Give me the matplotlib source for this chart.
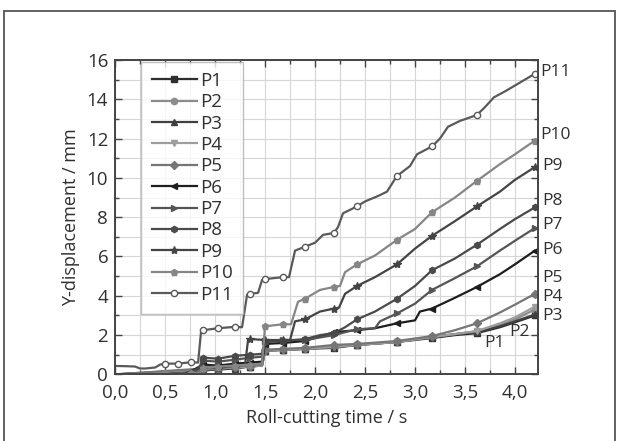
#!/usr/bin/env python3
"""Y-displacement of points P1-P11 over roll-cutting time."""

import matplotlib
matplotlib.use("Agg")
import matplotlib.pyplot as plt
import numpy as np
from matplotlib.patches import Rectangle
from matplotlib.ticker import MultipleLocator, FuncFormatter

plt.rcParams['font.family'] = ['Open Sans', 'DejaVu Sans']

# times where markers are drawn (s)
mark_t = [0.5, 0.63, 0.76, 0.88, 1.03, 1.2, 1.35, 1.5, 1.68, 1.9, 2.19, 2.42,
          2.82, 3.17, 3.62, 4.2]

# P1-P5 share one time base
t_low = [0, 0.88, 1.03, 1.2, 1.35, 1.47, 1.5, 1.68, 1.9, 2.19, 2.42, 2.82,
         3.17, 3.4, 3.62, 3.85, 4.0, 4.2]
y_p1 = [0, 0.25, 0.3, 0.35, 0.4, 0.5, 1.2, 1.25, 1.3, 1.35, 1.5, 1.65, 1.85,
        2.0, 2.1, 2.4, 2.65, 3.0]
y_p2 = [0, 0.2, 0.3, 0.35, 0.4, 0.45, 1.25, 1.25, 1.3, 1.4, 1.5, 1.65, 1.9,
        2.05, 2.2, 2.55, 2.8, 3.3]
y_p3 = [0, 0.2, 0.25, 0.3, 0.4, 0.45, 1.2, 1.25, 1.3, 1.4, 1.5, 1.65, 1.9,
        2.05, 2.15, 2.45, 2.7, 3.05]
y_p4 = [0, 0.25, 0.3, 0.35, 0.4, 0.45, 1.2, 1.25, 1.3, 1.4, 1.5, 1.65, 1.9,
        2.05, 2.2, 2.6, 2.9, 3.45]
y_p5 = [0, 0.3, 0.3, 0.4, 0.45, 0.5, 1.25, 1.3, 1.35, 1.5, 1.55, 1.7, 1.95,
        2.25, 2.6, 3.15, 3.55, 4.1]

t_p6 = [0, 0.7, 0.88, 1.03, 1.2, 1.35, 1.47, 1.5, 1.68, 1.9, 2.19, 2.42, 2.6,
        2.82, 3.0, 3.05, 3.17, 3.4, 3.62, 3.85, 4.0, 4.2]
y_p6 = [0, 0, 0.5, 0.45, 0.55, 0.6, 0.65, 1.55, 1.6, 1.7, 2.15, 2.25, 2.35,
        2.6, 2.75, 3.2, 3.35, 3.9, 4.45, 5.1, 5.6, 6.3]

t_p7 = [0, 0.6, 0.8, 0.88, 1.03, 1.2, 1.35, 1.47, 1.5, 1.68, 1.9, 2.19, 2.42,
        2.6, 2.65, 2.82, 3.0, 3.17, 3.4, 3.62, 3.85, 4.0, 4.2]
y_p7 = [0, 0, 0.05, 0.7, 0.65, 0.75, 0.85, 0.9, 1.7, 1.75, 1.75, 2.0, 2.3,
        2.35, 2.7, 3.1, 3.6, 4.3, 4.9, 5.5, 6.3, 6.8, 7.45]

t_p8 = [0, 0.5, 0.7, 0.85, 0.88, 1.03, 1.2, 1.35, 1.47, 1.5, 1.68, 1.9, 2.05,
        2.19, 2.3, 2.42, 2.6, 2.82, 3.0, 3.17, 3.4, 3.62, 3.85, 4.0, 4.2]
y_p8 = [0, 0, 0, 0.1, 0.85, 0.8, 0.95, 1.0, 1.05, 1.65, 1.7, 1.8, 2.0, 2.1,
        2.4, 2.8, 3.2, 3.85, 4.5, 5.3, 5.9, 6.6, 7.4, 7.9, 8.5]

t_p9 = [0, 0.5, 0.7, 0.88, 1.03, 1.2, 1.3, 1.33, 1.35, 1.5, 1.68, 1.75, 1.8,
        1.9, 2.05, 2.19, 2.24, 2.3, 2.42, 2.6, 2.82, 3.0, 3.17, 3.4, 3.62,
        3.85, 4.0, 4.2]
y_p9 = [0, 0, 0.05, 0.4, 0.35, 0.45, 0.5, 1.75, 1.8, 1.75, 1.75, 1.75, 2.7,
        2.8, 3.2, 3.35, 3.4, 4.1, 4.5, 4.95, 5.6, 6.4, 7.05, 7.8, 8.55, 9.3,
        9.9, 10.55]

t_p10 = [0, 0.45, 0.5, 0.55, 0.7, 0.76, 0.85, 0.88, 1.03, 1.2, 1.35, 1.47,
         1.5, 1.68, 1.76, 1.83, 1.9, 2.05, 2.19, 2.25, 2.3, 2.42, 2.6, 2.82,
         3.0, 3.17, 3.4, 3.62, 3.85, 4.0, 4.2]
y_p10 = [0, 0, 0.05, 0, 0, 0.05, 0.1, 0.35, 0.4, 0.45, 0.5, 0.55, 2.45, 2.55,
         2.55, 3.7, 3.85, 4.3, 4.45, 4.5, 5.2, 5.6, 6.05, 6.85, 7.4, 8.25, 9.0,
         9.85, 10.7, 11.2, 11.9]

t_p11 = [0, 0.1, 0.2, 0.25, 0.3, 0.4, 0.45, 0.5, 0.63, 0.76, 0.83, 0.86, 0.88,
         1.03, 1.2, 1.27, 1.32, 1.35, 1.43, 1.47, 1.5, 1.68, 1.74, 1.8, 1.9,
         2.0, 2.08, 2.19, 2.23, 2.28, 2.42, 2.5, 2.64, 2.72, 2.82, 2.95, 3.02,
         3.17, 3.25, 3.33, 3.45, 3.62, 3.7, 3.79, 3.9, 4.0, 4.2]
y_p11 = [0.43, 0.42, 0.4, 0.3, 0.3, 0.35, 0.5, 0.55, 0.55, 0.62, 0.6, 2.2,
         2.25, 2.35, 2.42, 2.4, 4.05, 4.1, 4.15, 4.8, 4.85, 4.95, 4.95, 6.3,
         6.5, 6.7, 7.1, 7.2, 7.5, 8.2, 8.55, 8.8, 9.1, 9.3, 10.1, 10.6, 11.2,
         11.6, 12.0, 12.6, 12.9, 13.2, 13.6, 14.1, 14.4, 14.7, 15.3]

names = ["P1", "P2", "P3", "P4", "P5", "P6", "P7", "P8", "P9", "P10", "P11"]
times = [t_low, t_low, t_low, t_low, t_low, t_p6, t_p7, t_p8, t_p9, t_p10, t_p11]
values = [y_p1, y_p2, y_p3, y_p4, y_p5, y_p6, y_p7, y_p8, y_p9, y_p10, y_p11]

colors = ['#2e2e2e', '#8c8c8c', '#404040', '#9e9e9e', '#767676', '#1e1e1e',
          '#555555', '#4a4a4a', '#444444', '#868686', '#5a5a5a']
markers = ['s', 'o', '^', 'v', 'D', '<', '>', 'h', '*', 'p', 'o']

# end labels placed at right edge
label_pos = [(3.80, 1.6, 'center'), (4.05, 2.15, 'center'), (4.27, 2.95, 'left'),
             (4.27, 3.95, 'left'), (4.27, 4.9, 'left'), (4.27, 6.35, 'left'),
             (4.27, 7.6, 'left'), (4.27, 8.8, 'left'), (4.27, 10.6, 'left'),
             (4.25, 12.2, 'left'), (4.25, 15.4, 'left')]

fs = 13.5

fig = plt.figure(figsize=(6.19, 4.41), dpi=100)
ax = fig.add_axes([0.186, 0.151, 0.683, 0.713])

for name, t, y, c, m in zip(names, times, values, colors, markers):
    t = np.asarray(t)
    idx = [i for i, v in enumerate(t) if np.any(np.isclose(v, mark_t))]
    mfc = 'white' if name == 'P11' else c
    ms = 6 if m == '*' else 4.5
    ax.plot(t, y, color=c, lw=1.6, marker=m, markevery=idx, markersize=ms,
            markerfacecolor=mfc, markeredgecolor=c, markeredgewidth=1.0,
            label=name)

for name, (lx, ly, ha) in zip(names, label_pos):
    ax.text(lx, ly, name, fontsize=12.5, ha=ha, va='center', color='#303030',
            clip_on=False)

ax.set_xlim(0, 4.23)
ax.set_ylim(0, 16)
ax.xaxis.set_major_locator(MultipleLocator(0.5))
ax.xaxis.set_minor_locator(MultipleLocator(0.25))
ax.yaxis.set_major_locator(MultipleLocator(2))
ax.yaxis.set_minor_locator(MultipleLocator(1))
ax.xaxis.set_major_formatter(FuncFormatter(lambda v, p: f"{v:.1f}".replace('.', ',')))
ax.grid(True, which='both', color='#d6d6d6', lw=0.8)
ax.set_axisbelow(True)
ax.tick_params(which='both', direction='in', top=True, right=True,
               colors='#444444', labelcolor='#303030')
ax.tick_params(which='major', length=5, width=1.0, labelsize=fs)
ax.tick_params(axis='x', which='major', pad=7)
ax.tick_params(axis='y', which='major', pad=5)
ax.tick_params(which='minor', length=3, width=1.0)
for s in ax.spines.values():
    s.set_color('#444444')
    s.set_linewidth(1.4)

ax.set_xlabel('Roll-cutting time / s', fontsize=13, color='#303030', labelpad=5)
ax.set_ylabel('Y-displacement / mm', fontsize=13, color='#303030', labelpad=5)

leg = ax.legend(loc='upper left', bbox_to_anchor=(0.062, 0.995), fontsize=fs,
                frameon=True, fancybox=False, edgecolor='#b0b0b0',
                handlelength=2.4, handletextpad=0.2, labelspacing=0.18,
                borderpad=0.55, borderaxespad=0)
leg.get_frame().set_linewidth(1.0)
for txt in leg.get_texts():
    txt.set_color('#303030')

# outer frame around the figure
fig.patches.append(Rectangle((0.006, -0.01), 0.988, 0.985, transform=fig.transFigure,
                             fill=False, edgecolor='#555555', lw=1.3))

fig.savefig('out.png', dpi=100, facecolor='white')
